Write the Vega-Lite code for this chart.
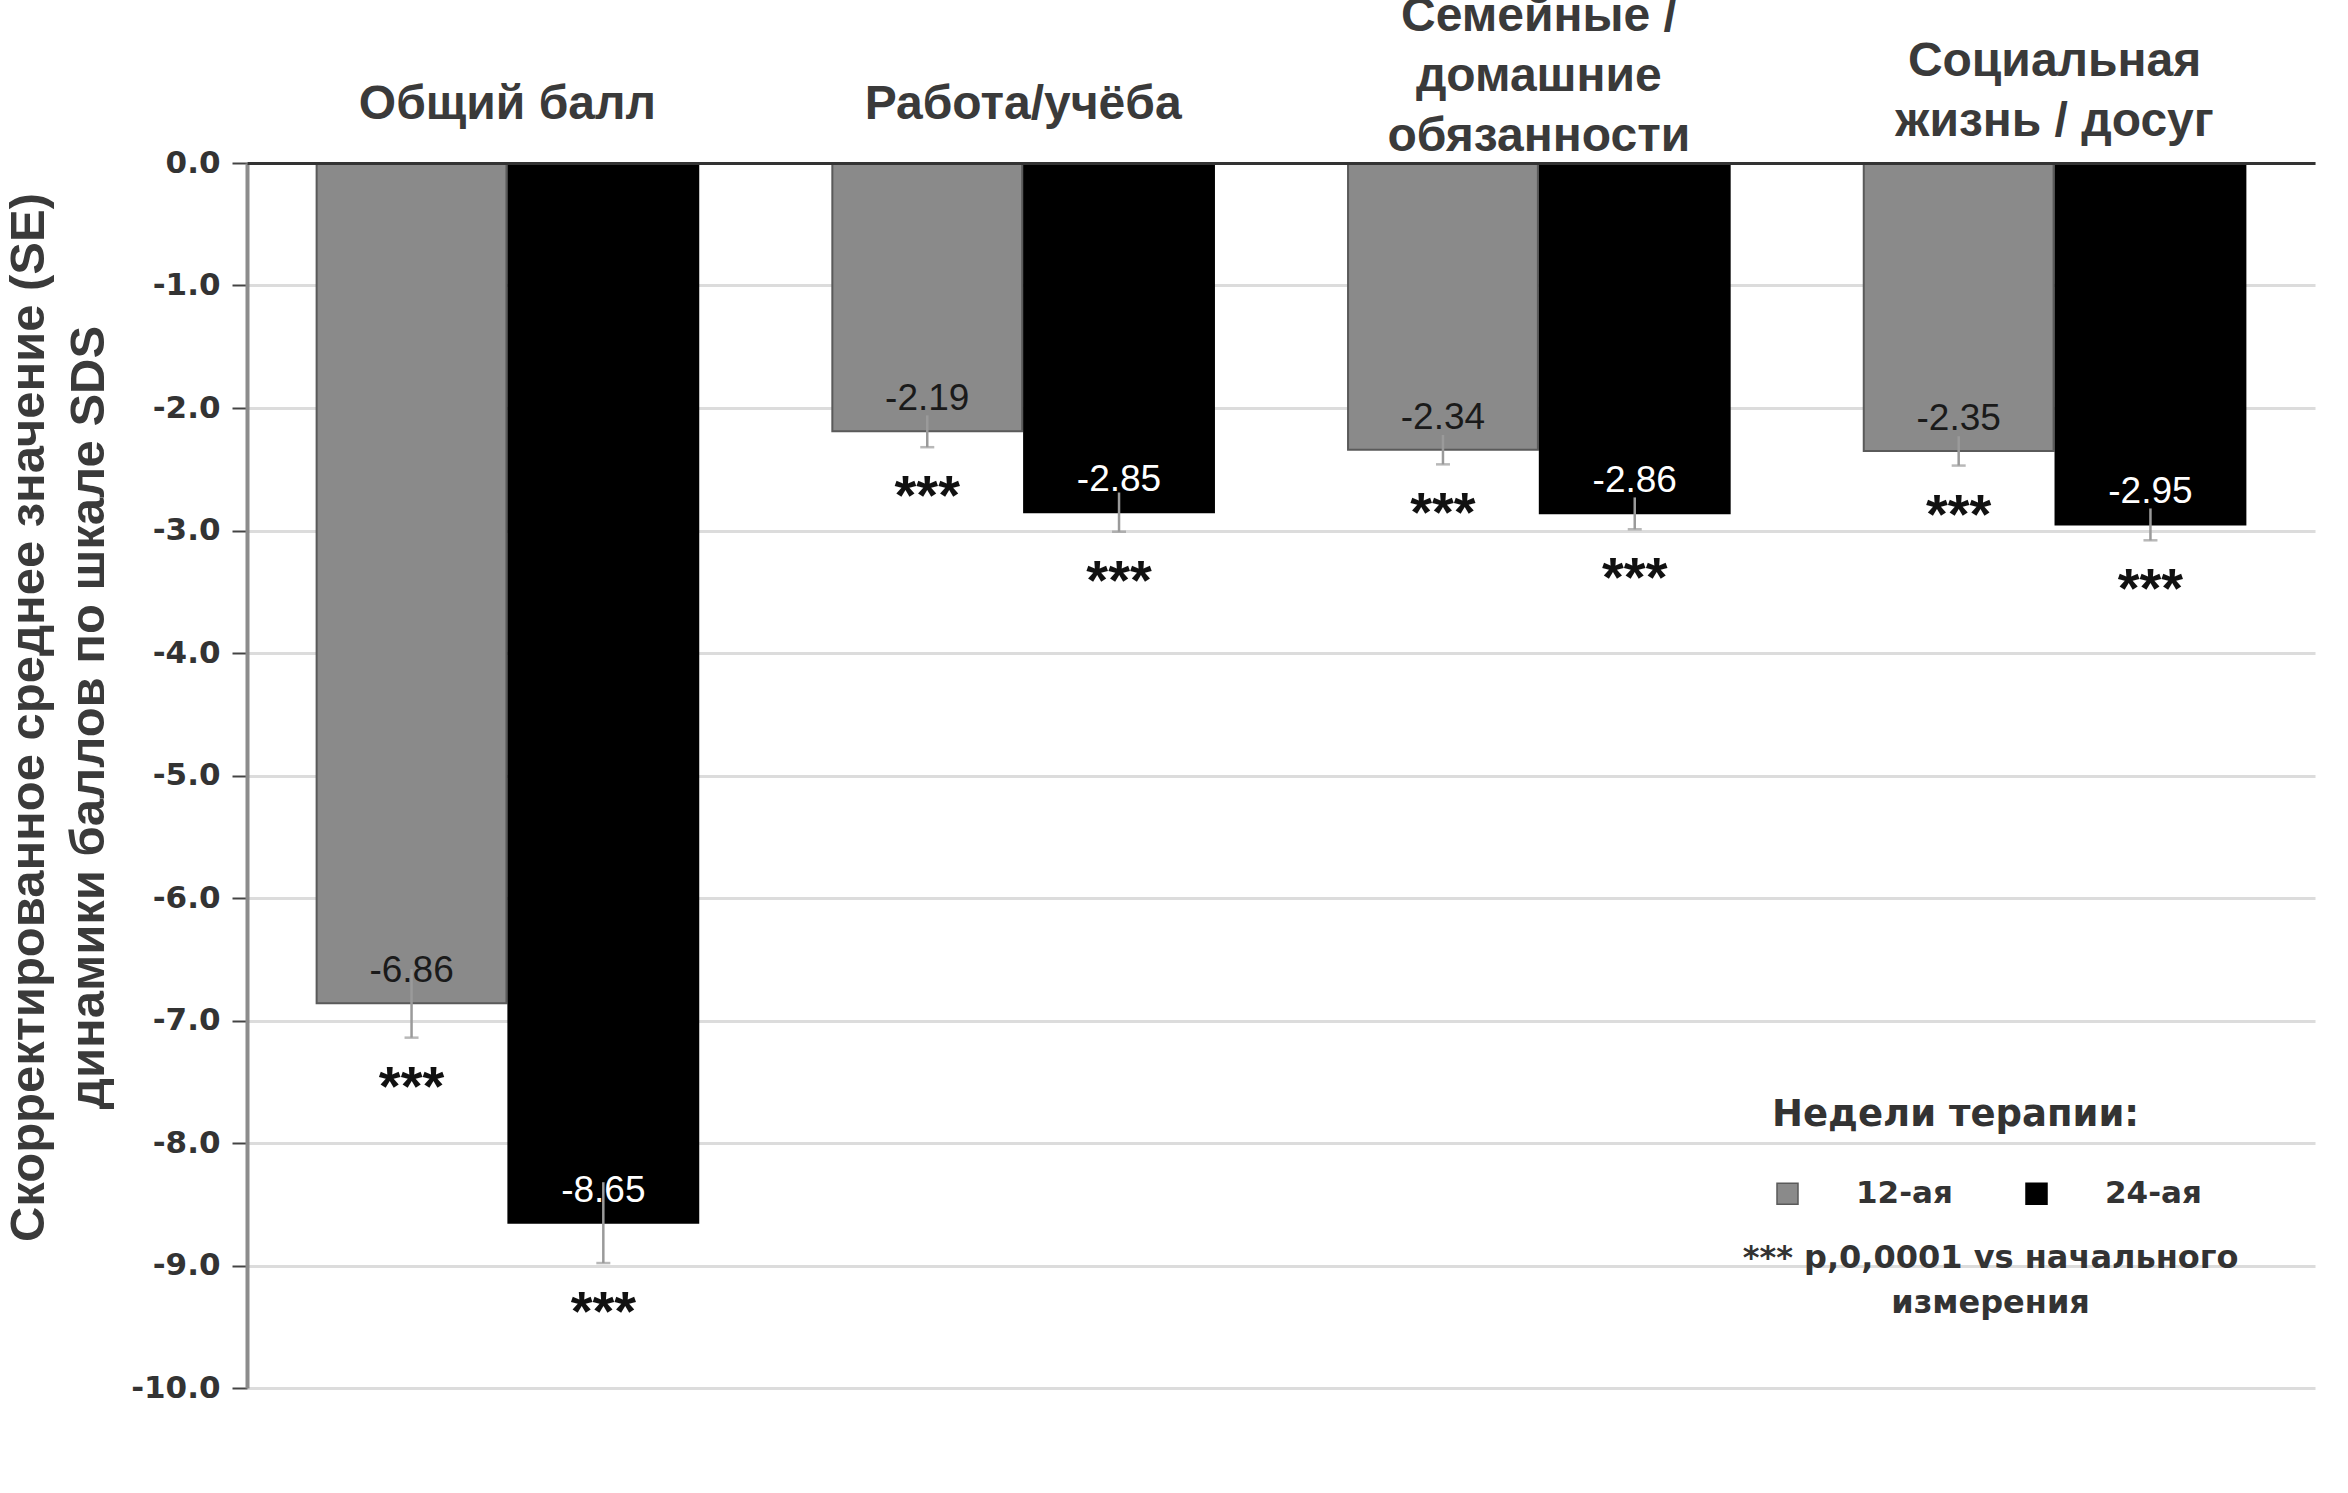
{
  "$schema": "https://vega.github.io/schema/vega-lite/v6.json",
  "width": 2068,
  "height": 1225,
  "autosize": {"type": "none"},
  "padding": {"left": 247, "top": 163, "right": 33, "bottom": 105},
  "background": "white",
  "config": {
    "view": {"stroke": null},
    "locale": {"number": {"decimal": ".", "thousands": ",", "grouping": [3], "currency": ["$", ""], "minus": "-"}}
  },
  "data": {
    "values": [
      {"cat": "Общий балл", "week": "12-ая", "value": -6.86, "lo": -7.14, "hi": -6.58, "sig": "***"},
      {"cat": "Общий балл", "week": "24-ая", "value": -8.65, "lo": -8.98, "hi": -8.32, "sig": "***"},
      {"cat": "Работа/учёба", "week": "12-ая", "value": -2.19, "lo": -2.32, "hi": -2.06, "sig": "***"},
      {"cat": "Работа/учёба", "week": "24-ая", "value": -2.85, "lo": -3.01, "hi": -2.69, "sig": "***"},
      {"cat": "Семейные / домашние обязанности", "week": "12-ая", "value": -2.34, "lo": -2.46, "hi": -2.22, "sig": "***"},
      {"cat": "Семейные / домашние обязанности", "week": "24-ая", "value": -2.86, "lo": -2.99, "hi": -2.73, "sig": "***"},
      {"cat": "Социальная жизнь / досуг", "week": "12-ая", "value": -2.35, "lo": -2.47, "hi": -2.23, "sig": "***"},
      {"cat": "Социальная жизнь / досуг", "week": "24-ая", "value": -2.95, "lo": -3.08, "hi": -2.82, "sig": "***"}
    ]
  },
  "layer": [
    {
      "mark": {"type": "bar", "strokeWidth": 2},
      "encoding": {
        "x": {
          "field": "cat", "type": "nominal",
          "scale": {"domain": ["Общий балл", "Работа/учёба", "Семейные / домашние обязанности", "Социальная жизнь / досуг"], "paddingInner": 0.26, "paddingOuter": 0.135},
          "axis": {
            "orient": "top", "title": null, "labelAngle": 0, "ticks": false,
            "labelFont": "Liberation Sans", "labelFontSize": 48, "labelFontWeight": "bold", "labelColor": "#3a3a3a",
            "labelLineHeight": 60, "labelLimit": 0,
            "labelPadding": {"condition": [
              {"test": "datum.value == 'Семейные / домашние обязанности'", "value": 123},
              {"test": "datum.value == 'Социальная жизнь / досуг'", "value": 78}
            ], "value": 35},
            "domainColor": "#333333", "domainWidth": 3, "zindex": 1,
            "labelExpr": "datum.label == 'Семейные / домашние обязанности' ? ['Семейные /', 'домашние', 'обязанности'] : datum.label == 'Социальная жизнь / досуг' ? ['Социальная', 'жизнь / досуг'] : datum.label"
          }
        },
        "xOffset": {"field": "week", "type": "nominal", "scale": {"paddingInner": 0.01}},
        "y": {
          "field": "value", "type": "quantitative",
          "scale": {"domain": [-10, 0], "nice": false},
          "axis": {
            "values": [0, -1, -2, -3, -4, -5, -6, -7, -8, -9, -10],
            "format": ".1f",
            "title": ["Скорректированное среднее значение (SE)", "динамики баллов по шкале SDS"],
            "titleFont": "Liberation Sans", "titleFontSize": 49, "titleFontWeight": "bold", "titleColor": "#3a3a3a",
            "titleLineHeight": 60, "titleX": -243, "titleY": 554, "titleBaseline": "top", "titleAlign": "center", "titleAngle": -90,
            "labelFont": "DejaVu Sans", "labelFontSize": 31, "labelFontWeight": "bold", "labelColor": "#333333",
            "labelPadding": 12,
            "tickColor": "#444444", "tickSize": 15, "tickWidth": 2,
            "domainColor": "#8c8c8c", "domainWidth": 4,
            "gridColor": "#dcdcdc", "gridWidth": 3
          }
        },
        "color": {
          "field": "week", "type": "nominal",
          "scale": {"domain": ["12-ая", "24-ая"], "range": ["#8a8a8a", "#000000"]},
          "legend": {
            "title": "Недели терапии:", "orient": "none", "legendX": 1525, "legendY": 934,
            "direction": "horizontal",
            "titleFont": "DejaVu Sans", "titleFontSize": 37, "titleFontWeight": "bold", "titleColor": "#333333", "titlePadding": 44, "titleLimit": 0,
            "labelFont": "DejaVu Sans", "labelFontSize": 31, "labelFontWeight": "bold", "labelColor": "#333333",
            "symbolType": "square", "symbolSize": 441, "symbolStrokeColor": "#666666", "symbolStrokeWidth": 1.5,
            "labelOffset": 53, "columnPadding": 68
          }
        },
        "stroke": {
          "field": "week", "type": "nominal",
          "scale": {"domain": ["12-ая", "24-ая"], "range": ["#5a5a5a", "#000000"]},
          "legend": null
        }
      }
    },
    {
      "mark": {"type": "rule", "color": "#9a9a9a", "strokeWidth": 2.5},
      "encoding": {
        "x": {"field": "cat", "type": "nominal"},
        "xOffset": {"field": "week", "type": "nominal"},
        "y": {"field": "lo", "type": "quantitative"},
        "y2": {"field": "hi"}
      }
    },
    {
      "mark": {"type": "tick", "color": "#9a9a9a", "thickness": 2.5, "size": 14},
      "encoding": {
        "x": {"field": "cat", "type": "nominal"},
        "xOffset": {"field": "week", "type": "nominal"},
        "y": {"field": "lo", "type": "quantitative"}
      }
    },
    {
      "mark": {"type": "text", "font": "Liberation Sans", "fontSize": 37, "baseline": "alphabetic", "align": "center", "dy": -21},
      "encoding": {
        "x": {"field": "cat", "type": "nominal"},
        "xOffset": {"field": "week", "type": "nominal"},
        "y": {"field": "value", "type": "quantitative"},
        "text": {"field": "value", "type": "quantitative", "format": ".2f"},
        "color": {"condition": {"test": "datum.week === '24-ая'", "value": "#ffffff"}, "value": "#1a1a1a"}
      }
    },
    {
      "mark": {"type": "text", "font": "Liberation Sans", "fontSize": 56, "fontWeight": "bold", "baseline": "alphabetic", "align": "center", "dy": 67, "color": "#111111"},
      "encoding": {
        "x": {"field": "cat", "type": "nominal"},
        "xOffset": {"field": "week", "type": "nominal"},
        "y": {"field": "lo", "type": "quantitative"},
        "text": {"field": "sig", "type": "nominal"}
      }
    },
    {
      "data": {"values": [{"note": "footnote"}]},
      "mark": {"type": "text", "font": "DejaVu Sans", "fontSize": 32, "fontWeight": "bold", "baseline": "middle", "align": "center", "lineHeight": 45, "color": "#333333", "dx": -64},
      "encoding": {
        "x": {"datum": "Социальная жизнь / досуг", "type": "nominal", "bandPosition": 0.5},
        "y": {"datum": -8.94, "type": "quantitative"},
        "text": {"value": ["*** p,0,0001 vs начального", "измерения"]}
      }
    }
  ]
}
